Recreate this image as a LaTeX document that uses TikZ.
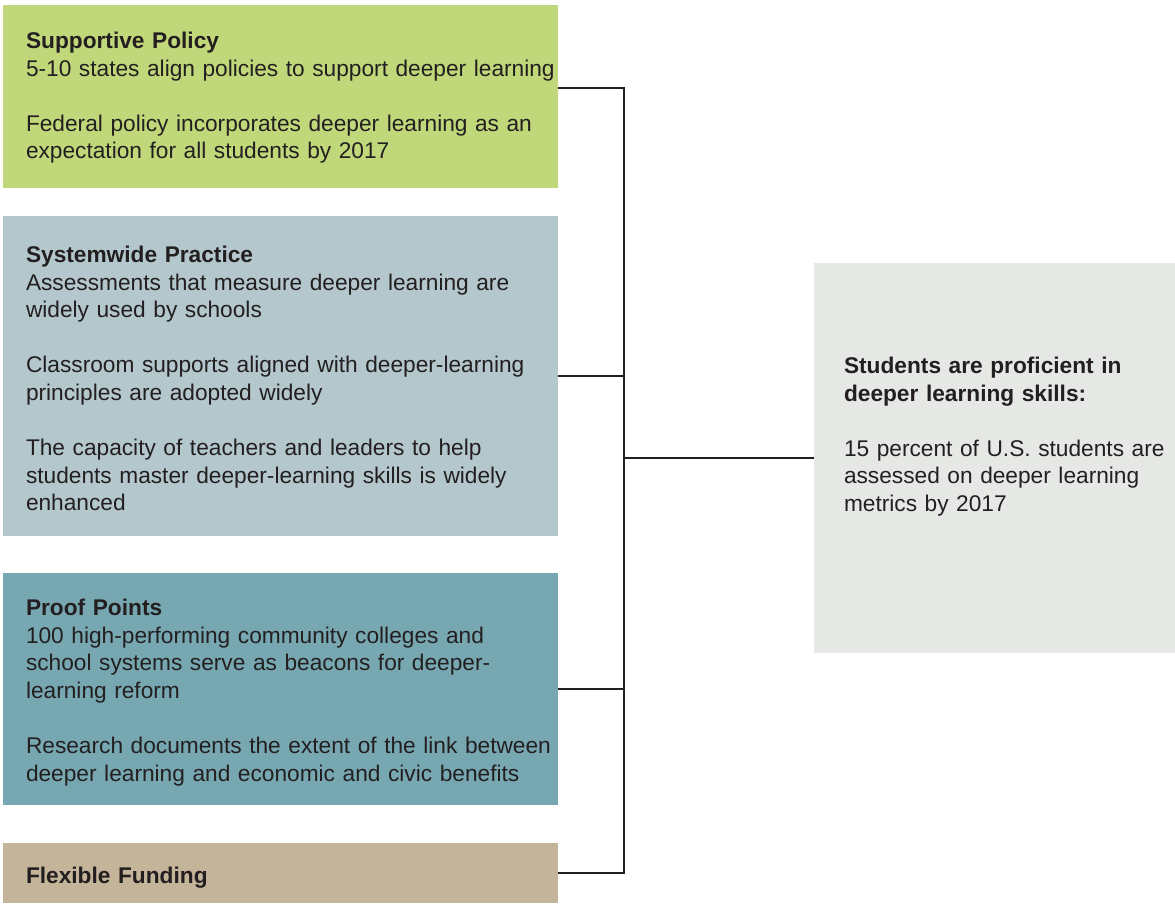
\documentclass[tikz,border=0pt]{standalone}
\usepackage{fontspec}
\setmainfont{Liberation Sans}
\usetikzlibrary{calc}

\definecolor{ink}{HTML}{231F20}
\definecolor{policygreen}{HTML}{C1D87A}
\definecolor{practiceblue}{HTML}{B3C7CC}
\definecolor{proofteal}{HTML}{77A8B2}
\definecolor{fundingtan}{HTML}{C4B49A}
\definecolor{goalgray}{HTML}{E6E8E5}

\tikzset{
  panel/.style={draw=none, fill=#1, anchor=north west, inner sep=0pt, outer sep=0pt},
  body/.style={anchor=north west, inner sep=0pt, outer sep=0pt, text=ink,
    align=left, text width=#1,
    font=\fontsize{22.7}{27.6}\selectfont},
  body/.default=560pt,
  link/.style={draw=ink, line width=1.2pt},
}

\begin{document}
\begin{tikzpicture}[x=1pt, y=-1pt]
  \useasboundingbox (0,0) rectangle (1175,903);

  % coloured panels
  \node[panel=policygreen,  minimum width=555pt, minimum height=183pt] (sp) at (3,5)   {};
  \node[panel=practiceblue, minimum width=555pt, minimum height=320pt] (sw) at (3,216) {};
  \node[panel=proofteal,    minimum width=555pt, minimum height=232pt] (pp) at (3,573) {};
  \node[panel=fundingtan,   minimum width=555pt, minimum height=60pt]  (ff) at (3,843) {};
  \node[panel=goalgray,     minimum width=361pt, minimum height=390pt] (goal) at (814,263) {};

  % panel texts (placed by the baseline of their first line)
  \node[body] (sptext) at (26,{48.5-19.32}) {\strut\textbf{Supportive Policy}\\
    5-10 states align policies to support deeper learning\\[27.6pt]
    Federal policy incorporates deeper learning as an\\
    expectation for all students by 2017};

  \node[body] (swtext) at (26,{262.5-19.32}) {\strut\textbf{Systemwide Practice}\\
    Assessments that measure deeper learning are\\
    widely used by schools\\[27.6pt]
    Classroom supports aligned with deeper-learning\\
    principles are adopted widely\\[27.6pt]
    The capacity of teachers and leaders to help\\
    students master deeper-learning skills is widely\\
    enhanced};

  \node[body] (pptext) at (26,{615.5-19.32}) {\strut\textbf{Proof Points}\\
    100 high-performing community colleges and\\
    school systems serve as beacons for deeper-\\
    learning reform\\[27.6pt]
    Research documents the extent of the link between\\
    deeper learning and economic and civic benefits};

  \node[body] (fftext) at (26,{883.5-19.32}) {\strut\textbf{Flexible Funding}};

  \node[body=340pt] (goaltext) at (844,{373.5-19.32}) {\strut\textbf{Students are proficient in}\\
    \textbf{deeper learning skills:}\\[27.6pt]
    15 percent of U.S. students are\\
    assessed on deeper learning\\
    metrics by 2017};

  % connector bus
  \coordinate (bus) at (624,0);
  \coordinate (spout) at ($(sp.north east)!0.4536!(sp.south east)$);

  \draw[link] (spout) -- (spout -| bus) -- (ff.east -| bus) -- (ff.east);
  \draw[link] (sw.east) -- (sw.east -| bus);
  \draw[link] (pp.east) -- (pp.east -| bus);
  \draw[link] (goal.west -| bus) -- (goal.west);
\end{tikzpicture}
\end{document}
